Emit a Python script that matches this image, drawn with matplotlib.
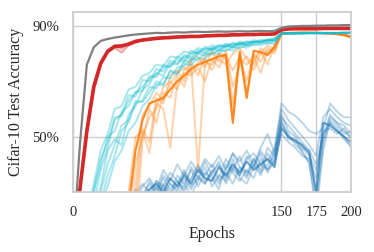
import numpy as np
import matplotlib
matplotlib.use("Agg")
import matplotlib.pyplot as plt

epochs = [0, 5, 10, 15, 20, 25, 30, 35, 40, 45, 50, 55, 60, 65, 70, 75, 80, 85, 90, 95,
          100, 105, 110, 115, 120, 125, 130, 135, 140, 145, 150, 155, 160, 165, 170, 175,
          180, 185, 190, 195, 200]

grey_run = [10, 47, 76, 82.3, 84.6, 85.3, 85.8, 86.2, 86.6, 86.9, 87.1, 87.3, 87.5, 87.4, 87.6,
            87.7, 87.6, 87.8, 87.9, 87.8, 87.9, 88.0, 87.9, 88.0, 88.1, 88.0, 88.1, 88.2, 88.1,
            88.2, 89.3, 89.8, 89.9, 90.0, 90.0, 90.1, 90.1, 90.2, 90.2, 90.3, 90.3]

red_main = [12, 31, 52, 68, 76.5, 80.8, 82.6, 82.8, 83.4, 84.4, 84.9, 85.2, 85.5, 85.7, 85.8,
            86.0, 86.1, 86.2, 86.2, 86.4, 86.5, 86.6, 86.6, 86.8, 86.8, 86.9, 86.9, 87.0, 87.0,
            87.1, 88.6, 88.9, 89.0, 89.0, 89.0, 89.0, 89.1, 89.1, 89.1, 89.1, 89.1]
red_light = [
    [12, 30, 51, 67, 76, 80.5, 82.2, 80.4, 83.0, 84.0, 85.1, 85.0, 85.8, 85.5, 86.1,
     85.8, 86.3, 86.0, 86.4, 86.3, 86.7, 86.4, 86.8, 86.6, 87.0, 86.7, 87.1, 86.9, 87.2,
     87.0, 88.5, 88.9, 89.0, 89.0, 89.1, 89.0, 89.1, 89.0, 89.1, 89.1, 89.0],
    [12, 32, 53, 69, 77, 81.2, 83.0, 81.8, 83.8, 84.7, 84.6, 85.5, 85.3, 86.0, 85.6,
     86.2, 85.9, 86.4, 86.1, 86.6, 86.3, 86.8, 86.5, 87.0, 86.7, 87.1, 86.8, 87.2, 86.9,
     87.3, 88.7, 89.0, 89.1, 89.1, 89.0, 89.1, 89.1, 89.2, 89.1, 89.2, 89.2],
]

cyan_runs = [
    [10, 14, 22, 33, 45, 51, 60, 61, 67, 68, 72, 73, 76, 75.5, 79, 78.5, 80.8, 80.2, 82, 81.5,
     83, 82.4, 83.6, 83, 84.4, 83.8, 84.9, 84.4, 85.2, 85.6,
     87.3, 87.4, 87.4, 87.5, 87.5, 87.5, 87.5, 87.5, 87.5, 87.6, 87.6],
    [10, 11, 14, 21, 26, 36, 43, 52, 55, 62, 63, 68, 67.5, 71.5, 71, 75, 75.5, 78, 77.8, 80,
     79.8, 81.2, 81, 82.3, 82, 83.1, 83, 83.9, 83.6, 84.4,
     87.1, 87.2, 87.2, 87.3, 87.3, 87.3, 87.3, 87.4, 87.4, 87.4, 87.4],
    [10, 13, 19, 30, 40, 50, 52, 59, 61, 66, 68, 71, 72.5, 75, 75.5, 78, 77, 80, 80.5, 81.8,
     81.6, 82.8, 82.4, 83.6, 83.2, 84.2, 83.9, 84.7, 84.4, 85.1,
     87.2, 87.3, 87.3, 87.3, 87.4, 87.4, 87.4, 87.4, 87.4, 87.5, 87.5],
    [10, 12, 16, 25, 32, 45, 49, 47, 58, 61, 67, 69, 73, 72, 76.5, 76, 79, 78, 80.5, 80.2,
     82, 81.2, 82.8, 82.2, 83.6, 83, 84.3, 84, 84.8, 84.6,
     87.2, 87.3, 87.3, 87.3, 87.4, 87.4, 87.4, 87.4, 87.4, 87.4, 87.5],
    [10, 11, 13, 17, 26, 32, 41, 45, 52, 55, 61, 63.5, 69, 68.5, 74, 73, 77.5, 77, 80, 79.2,
     81.5, 80.8, 82.8, 82.2, 83.8, 82.9, 84.3, 84, 84.9, 84.8,
     87.2, 87.3, 87.3, 87.3, 87.4, 87.4, 87.4, 87.4, 87.4, 87.5, 87.5],
    [10, 12, 17, 26, 38, 46, 56, 58, 65, 64.5, 70.5, 70, 74.5, 73.5, 77.5, 76.5, 79.5, 78.8, 81.3, 80.6,
     82.3, 81.8, 83.2, 82.7, 83.9, 83.4, 84.4, 84.1, 85, 84.7,
     87.3, 87.4, 87.4, 87.4, 87.5, 87.5, 87.5, 87.5, 87.5, 87.5, 87.6],
    [10, 11, 15, 22, 30, 40, 47, 54, 56, 63, 62.5, 66, 70, 69, 73.5, 72.5, 76.5, 75.8, 78.5, 78,
     80.5, 79.8, 81.8, 81, 82.8, 82.1, 83.5, 83, 84, 83.4,
     87.1, 87.2, 87.2, 87.3, 87.3, 87.3, 87.3, 87.3, 87.4, 87.4, 87.4],
    [10, 13, 20, 31, 42, 48, 57, 57.5, 63, 66, 66.5, 72, 71.5, 76, 75, 79, 78, 81, 80, 82.5,
     81.3, 83.2, 82.5, 83.9, 83.2, 84.5, 84, 85, 84.5, 85.5,
     87.3, 87.4, 87.4, 87.5, 87.5, 87.5, 87.5, 87.5, 87.5, 87.6, 87.6],
]

orange_main = [5, 5, 5, 5, 5, 6, 8, 12, 25, 45, 56, 62, 63, 64, 67, 70, 72, 74.5, 76, 77,
               78, 79, 79.5, 55, 80.5, 64, 81, 80.5, 79.5, 82.5, 87.3, 87.4, 87.5, 87.5,
               87.5, 87.5, 87.4, 87.3, 87.1, 86.7, 86.0]
orange_light = [
    [5, 5, 5, 5, 5, 5, 5, 5, 5, 15, 48, 60, 55, 66, 64, 72, 68, 76, 38, 77,
     76, 80, 79, 74, 79, 70, 80, 77, 82, 80, 87.3, 87.4, 87.5, 87.5, 87.5, 87.5,
     87.4, 87.3, 87.1, 86.8, 86.2],
    [5, 5, 5, 5, 5, 5, 5, 10, 30, 50, 52, 44, 62, 60, 46, 69, 73, 72, 75, 70,
     78, 75, 80, 62, 78, 76, 79, 73, 81, 82, 87.2, 87.3, 87.4, 87.4, 87.4, 87.4,
     87.3, 87.2, 87.0, 86.6, 85.9],
    [5, 5, 5, 5, 5, 5, 5, 5, 12, 32, 58, 61, 66, 63, 69, 73, 75, 73, 77, 78,
     74, 80, 78, 58, 81, 66, 78, 81, 76, 83, 87.4, 87.5, 87.5, 87.6, 87.6, 87.5,
     87.5, 87.4, 87.2, 86.8, 86.1],
    [5, 5, 5, 5, 5, 5, 5, 5, 18, 40, 50, 57, 60, 68, 70, 67, 74, 77, 72, 79,
     80, 77, 81, 68, 76, 79, 76, 82, 80, 81, 87.3, 87.4, 87.5, 87.5, 87.5, 87.5,
     87.4, 87.3, 87.1, 86.7, 86.0],
    [5, 5, 5, 5, 5, 5, 5, 5, 5, 25, 53, 48, 64, 62, 72, 74, 70, 78, 79, 75,
     81, 78, 76, 80, 82, 78, 74, 80, 83, 81.5, 87.4, 87.5, 87.5, 87.6, 87.5, 87.5,
     87.4, 87.3, 87.1, 86.8, 86.2],
]

blue_main = [20, 20, 20, 20, 20, 20, 20, 20, 20, 20, 28, 31, 33, 30, 35, 32, 36, 33, 38, 35,
             34, 39, 36, 40, 37, 41, 38, 40, 42, 39, 53, 50, 48.5, 47, 44, 30, 55, 54, 52,
             50, 48]
blue_light = [
    [20, 20, 20, 20, 20, 20, 20, 20, 20, 26, 32, 35, 31, 38, 34, 40, 36, 41, 37, 42,
     39, 43, 38, 44, 41, 45, 40, 46, 51, 44, 62, 59, 57.5, 55, 52, 51, 53, 62, 59,
     57, 57],
    [20, 20, 20, 20, 20, 20, 20, 20, 20, 20, 20, 27, 32, 29, 33, 30, 35, 31, 36, 33,
     38, 34, 37, 33, 39, 35, 42, 37, 40, 43, 58, 52, 50, 46, 43, 38, 50, 58, 55,
     52, 50],
    [20, 20, 20, 20, 20, 20, 20, 20, 20, 22, 30, 28, 34, 32, 29, 36, 33, 38, 32, 37,
     35, 31, 40, 37, 34, 38, 35, 42, 38, 41, 55, 51, 47, 45, 40, 26, 48, 55, 53,
     49, 47],
    [20, 20, 20, 20, 20, 20, 20, 20, 22, 29, 33, 30, 29, 35, 31, 34, 30, 35, 40, 34,
     37, 41, 33, 38, 43, 36, 40, 36, 44, 40, 56, 49, 49, 44, 41, 22, 45, 56, 54,
     51, 52],
    [20, 20, 20, 20, 20, 20, 20, 20, 20, 20, 24, 29, 27, 33, 30, 28, 33, 29, 34, 39,
     32, 36, 34, 42, 35, 33, 39, 44, 37, 42, 51, 48, 46, 43, 42, 35, 52, 53, 51,
     53, 49],
    [20, 20, 20, 20, 20, 20, 20, 20, 24, 31, 27, 34, 30, 36, 33, 31, 37, 34, 39, 36,
     40, 35, 42, 38, 36, 43, 39, 45, 41, 46, 60, 56, 53, 50, 47, 43, 57, 60, 57,
     55, 54],
    [20, 20, 20, 20, 20, 20, 20, 20, 20, 20, 26, 30, 34, 31, 29, 33, 38, 32, 35, 41,
     36, 33, 38, 44, 39, 37, 42, 38, 46, 43, 57, 54, 51, 48, 45, 28, 49, 57, 55,
     54, 51],
    [20, 20, 20, 20, 20, 20, 20, 20, 20, 24, 29, 33, 29, 32, 37, 34, 31, 39, 35, 33,
     37, 40, 35, 39, 36, 42, 44, 40, 38, 45, 54, 50, 48, 46, 45, 40, 51, 55, 52,
     50, 46],
]

x_ticks = [0, 150, 175, 200]
y_ticks = [50, 90]
y_tick_labels = ["50%", "90%"]

plt.rcParams['font.family'] = ['Liberation Serif', 'DejaVu Serif']

fig = plt.figure(figsize=(3.74, 2.52), dpi=100)
ax = fig.add_axes([0.195, 0.238, 0.7435, 0.714])

blue = '#1f77b4'
orange = '#ff7f0e'
cyan = '#17becf'
red = '#d62728'
grey = '#7f7f7f'

for run in blue_light:
    ax.plot(epochs, run, color=blue, alpha=0.3, lw=1.4)
ax.plot(epochs, blue_main, color=blue, alpha=0.65, lw=1.5)

for run in orange_light:
    ax.plot(epochs, run, color=orange, alpha=0.35, lw=1.4)
ax.plot(epochs, orange_main, color=orange, alpha=0.9, lw=1.6)

for run in cyan_runs:
    ax.plot(epochs, run, color=cyan, alpha=0.38, lw=1.4)

for run in red_light:
    ax.plot(epochs, run, color=red, alpha=0.4, lw=1.6)
ax.plot(epochs, red_main, color=red, lw=2.6)

ax.plot(epochs, grey_run, color=grey, lw=1.6)

ax.set_xlim(0, 200)
ax.set_ylim(30, 95)
ax.set_xticks(x_ticks)
ax.set_yticks(y_ticks)
ax.set_yticklabels(y_tick_labels)
ax.tick_params(length=0, pad=10, labelsize=10.5, labelcolor='#262626')
ax.grid(True, color='#cccccc', lw=1.0)
ax.set_axisbelow(True)
for s in ax.spines.values():
    s.set_color('#cccccc')
    s.set_linewidth(1.25)

ax.set_xlabel("Epochs", fontsize=11.5, labelpad=5, color='#262626')
ax.set_ylabel("Cifar-10 Test Accuracy", fontsize=11.5, labelpad=6, color='#262626')

fig.savefig("out.png", dpi=100)
